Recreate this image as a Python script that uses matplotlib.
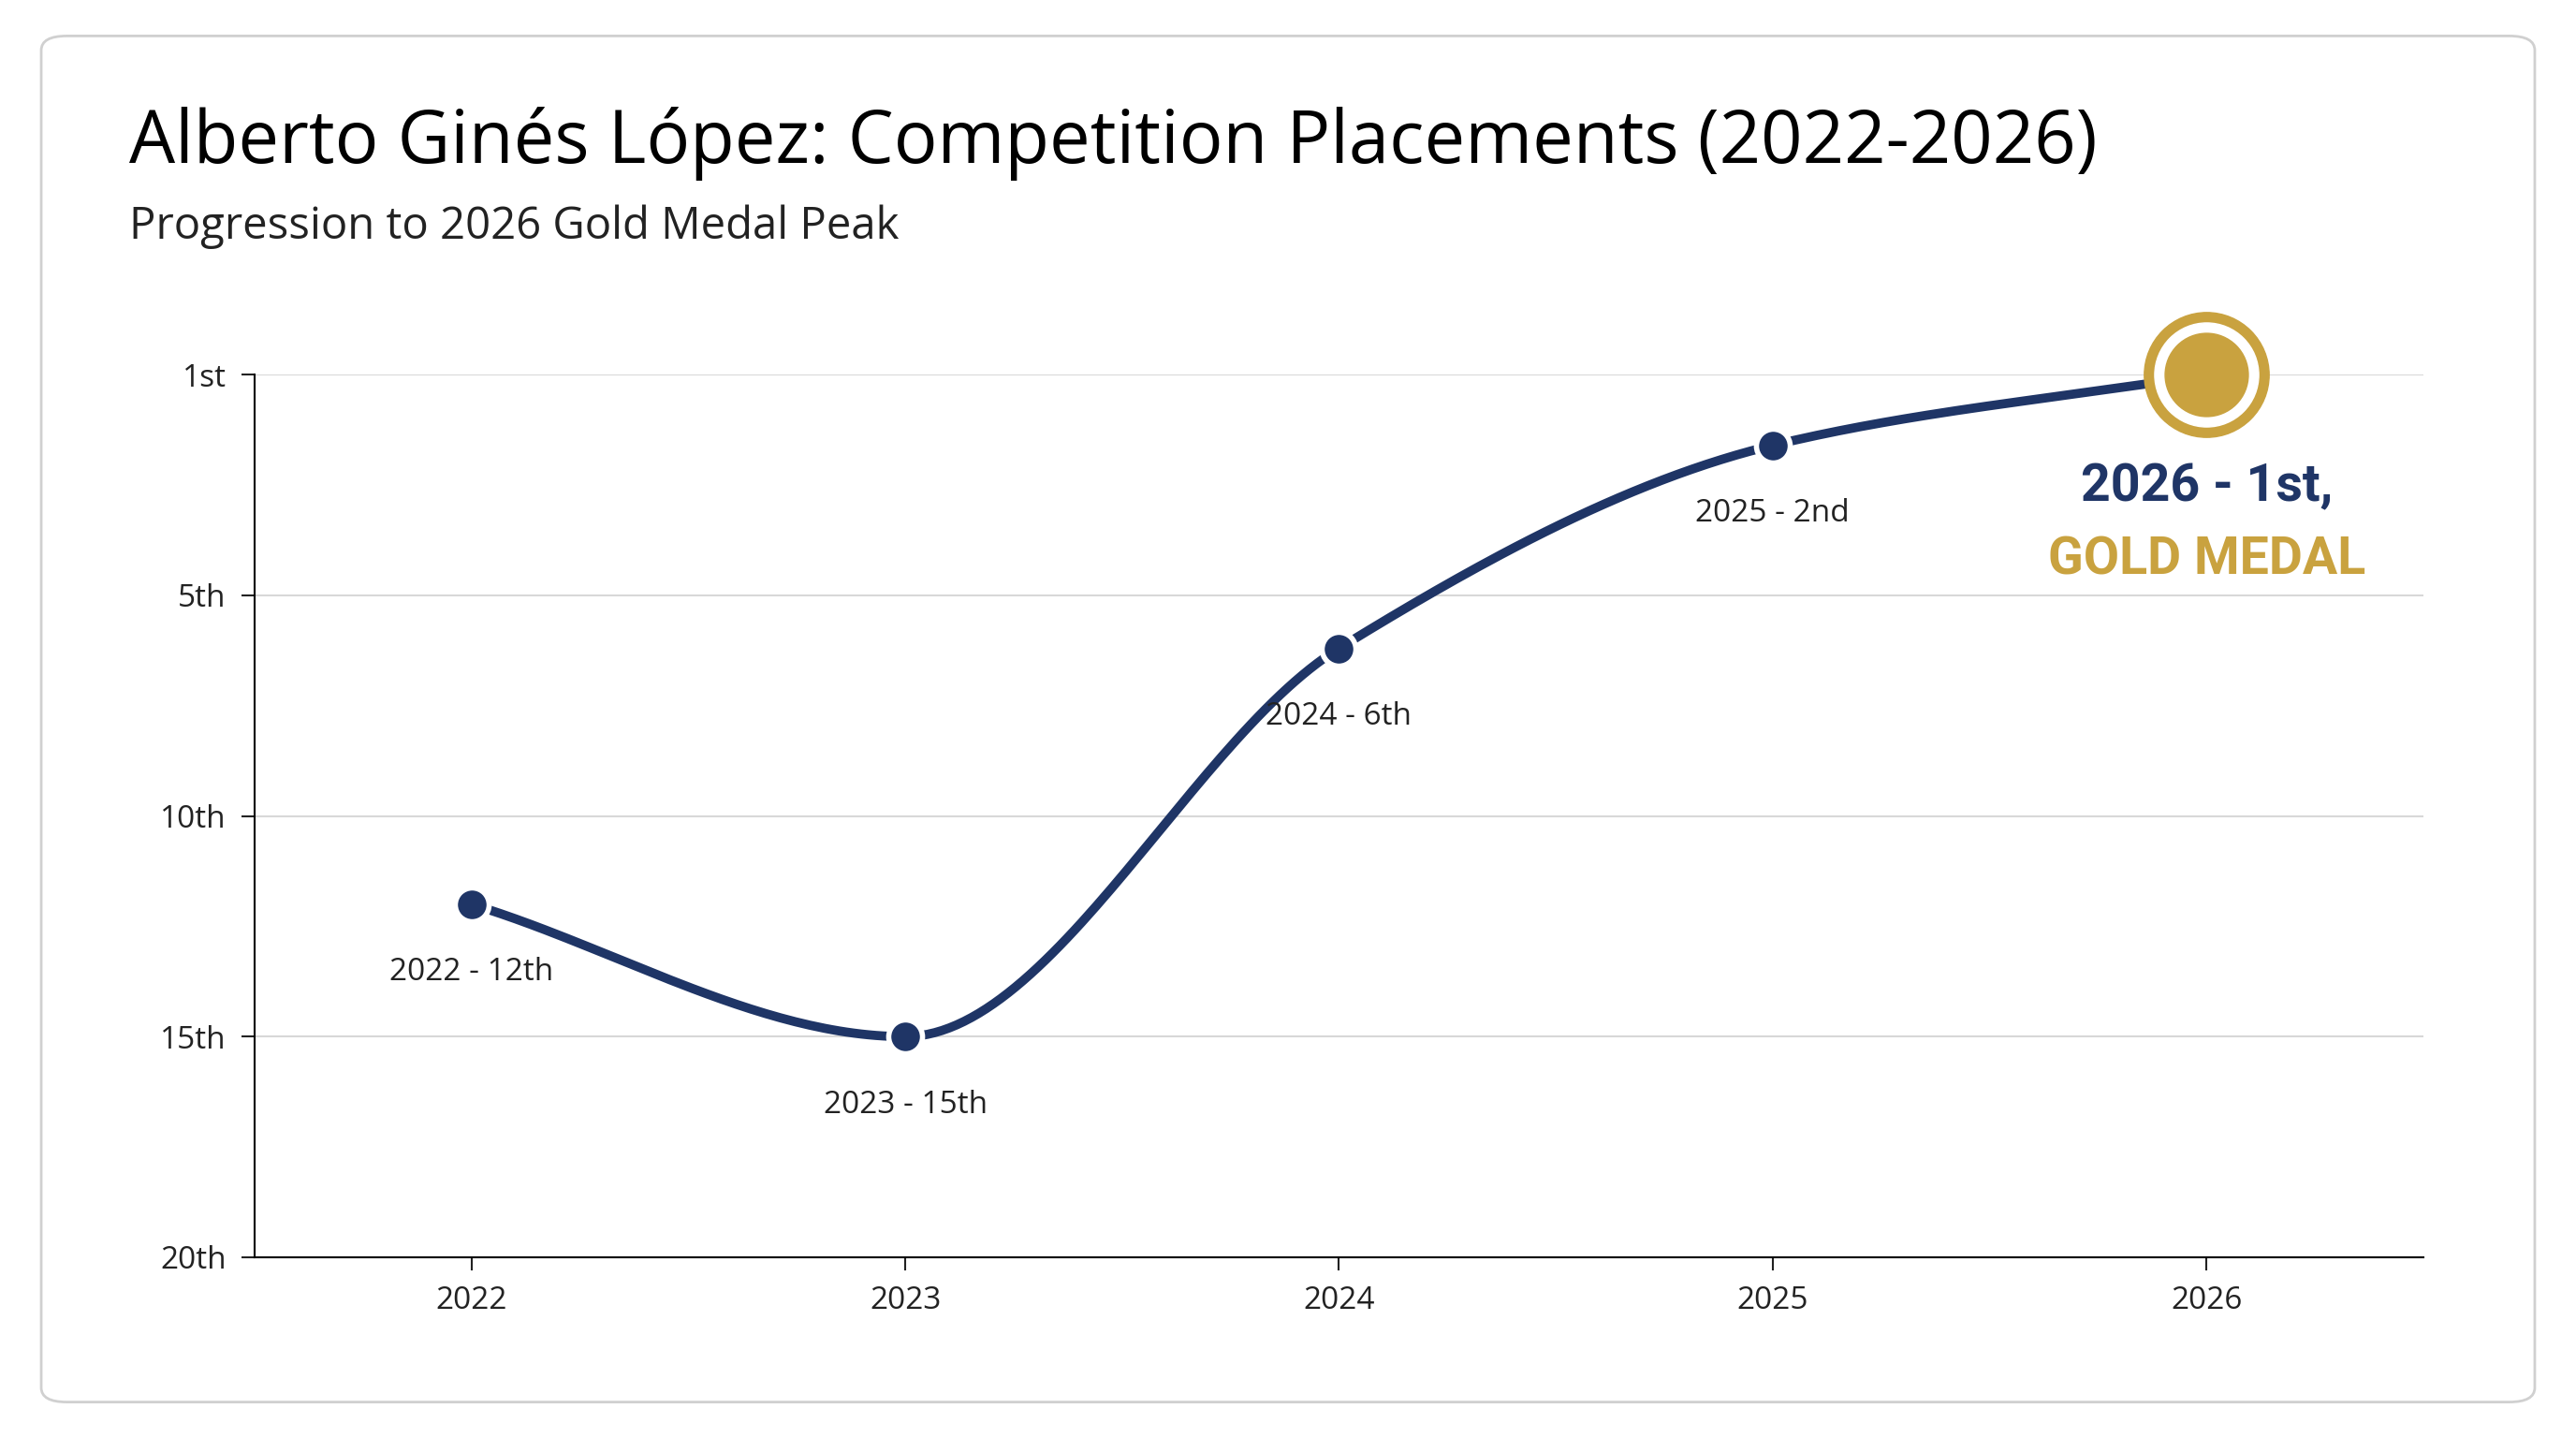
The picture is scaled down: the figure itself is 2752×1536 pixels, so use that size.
import matplotlib.pyplot as plt
import numpy as np
from matplotlib.patches import FancyBboxPatch

years = [2022, 2023, 2024, 2025, 2026]
ranks = ["12th", "15th", "6th", "2nd", "1st"]
# vertical position (axis runs 0 = "1st" .. 20 = "20th")
positions = [12, 15, 6.2, 1.6, 0]
tick_pos = [0, 5, 10, 15, 20]
tick_labels = ["1st", "5th", "10th", "15th", "20th"]

navy = "#1f3566"
gold = "#c9a23f"


def monotone(x, y, n=60):
    x = np.asarray(x, float)
    y = np.asarray(y, float)
    h = np.diff(x)
    d = np.diff(y) / h
    m = np.zeros_like(y)
    m[0], m[-1] = d[0], d[-1]
    for i in range(1, len(y) - 1):
        if d[i - 1] * d[i] > 0:
            m[i] = 2 / (1 / d[i - 1] + 1 / d[i])
    xs, ys = [], []
    for i in range(len(h)):
        t = np.linspace(0, 1, n)
        h00 = 2 * t**3 - 3 * t**2 + 1
        h10 = t**3 - 2 * t**2 + t
        h01 = -2 * t**3 + 3 * t**2
        h11 = t**3 - t**2
        xs.append(x[i] + t * h[i])
        ys.append(h00 * y[i] + h10 * h[i] * m[i] + h01 * y[i + 1] + h11 * h[i] * m[i + 1])
    return np.concatenate(xs), np.concatenate(ys)


plt.rcParams['font.family'] = ['Open Sans', 'DejaVu Sans']
fig = plt.figure(figsize=(27.52, 15.36), dpi=100)
fig.patches.append(FancyBboxPatch((0.016, 0.025), 0.968, 0.95, boxstyle="round,pad=0,rounding_size=0.01",
                                  transform=fig.transFigure, facecolor="white", edgecolor="#d0d0d0", lw=2,
                                  zorder=-5))

fig.text(0.05, 0.9, "Alberto Ginés López: Competition Placements (2022-2026)", fontsize=56, va="center")
fig.text(0.05, 0.842, "Progression to 2026 Gold Medal Peak", fontsize=34, va="center", color="#222222")

ax = fig.add_axes([0.0989, 0.1257, 0.8418, 0.6137])
ax.set_xlim(2021.5, 2026.5)
ax.set_ylim(20, 0)
ax.set_yticks(tick_pos)
ax.set_yticklabels(tick_labels)
ax.set_xticks(years)
ax.tick_params(labelsize=24, length=10, width=1.5, pad=12, colors="#222222")
for s in ["top", "right"]:
    ax.spines[s].set_visible(False)
for s in ["left", "bottom"]:
    ax.spines[s].set_linewidth(1.5)
ax.grid(axis="y", color="#d8d8d8", lw=1.5)
ax.set_axisbelow(True)

sx, sy = monotone(years, positions)
ax.plot(sx, sy, color=navy, lw=7, solid_capstyle="round", zorder=3)
ax.plot(years[:-1], positions[:-1], "o", ms=26, color=navy, mec="white", mew=4, zorder=4)
ax.plot(years[-1], positions[-1], "o", ms=96, color=gold, zorder=4, clip_on=False)
ax.plot(years[-1], positions[-1], "o", ms=80, color="white", zorder=5, clip_on=False)
ax.plot(years[-1], positions[-1], "o", ms=64, color=gold, zorder=6, clip_on=False)

for yr, rk, p in zip(years[:-1], ranks[:-1], positions[:-1]):
    ax.text(yr, p + 1.2, f"{yr} - {rk}", fontsize=24, ha="center", va="top", color="#222222")

ax.text(years[-1], 2.0, "2026 - 1st,", fontsize=40, fontweight="bold", family=["Roboto", "DejaVu Sans"],
        ha="center", va="top", color=navy)
ax.text(years[-1], 3.65, "GOLD MEDAL", fontsize=40, fontweight="bold", family=["Roboto", "DejaVu Sans"],
        ha="center", va="top", color=gold)

fig.savefig("out.png", dpi=100, facecolor="white")
